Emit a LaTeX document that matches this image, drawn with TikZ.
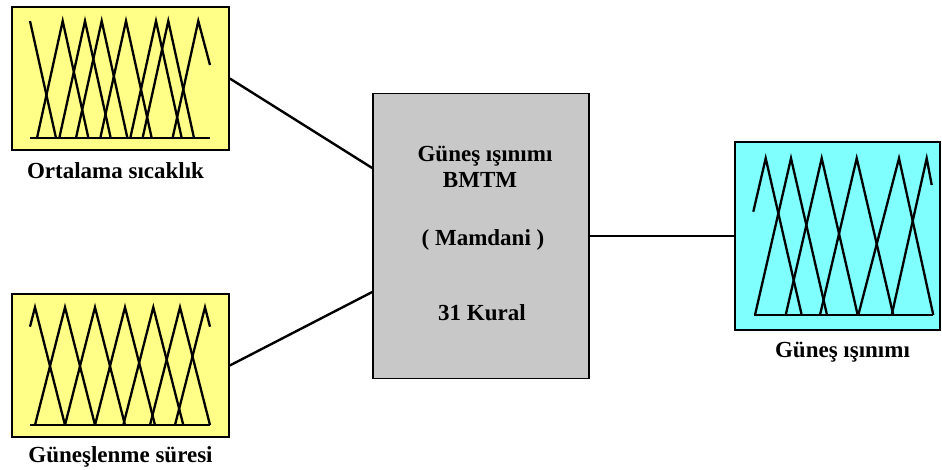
\documentclass[tikz,border=0pt]{standalone}
\usepackage{fontspec}
\setmainfont{Liberation Serif}
\usetikzlibrary{positioning}
\definecolor{inyellow}{RGB}{255,255,136}
\definecolor{outcyan}{RGB}{128,255,255}
\definecolor{fisgray}{RGB}{200,200,200}

\begin{document}
\begin{tikzpicture}[x=1pt,y=-1pt,
   font=\fontsize{23}{26}\selectfont\bfseries,
   invar/.style={draw,line width=1.6pt,inner sep=0pt,minimum width=217pt,minimum height=143pt},
   fis/.style={draw,line width=1.6pt,fill=fisgray,inner sep=0pt,minimum width=216pt,minimum height=285pt},
   mf/.style={line width=2.3pt},
   lbl/.style={inner sep=0pt}]
   \useasboundingbox (0,0) rectangle (942,469);
   \node[invar,fill=inyellow] (temp) at (120.5,78.5) {};
   \node[invar,fill=inyellow] (sun) at (120.5,365.5) {};
   \node[fis] (fis) at (481,236) {};
   \node[invar,fill=outcyan,minimum width=205pt,minimum height=188pt] (rad) at (837.5,236) {};
   \node[lbl] (templbl) [below=12pt of temp,xshift=-5pt] {Ortalama sıcaklık};
   \node[lbl] (sunlbl) [below=9pt of sun] {Güneşlenme süresi};
   \node[lbl] (radlbl) [below=11pt of rad,xshift=5pt] {Güneş ışınımı};
   \node[lbl,anchor=base] (name) at (485,161.7) {Güneş ışınımı};
   \node[lbl,anchor=base] (bmtm) at (480,187.3) {BMTM};
   \node[lbl,anchor=base] (type) at (483,245) {( Mamdani )};
   \node[lbl,anchor=base] (rules) at (482,320.7) {31 Kural};
   \path[line width=2.4pt]
   (temp.east) edge ([yshift=68pt]fis.west)
   (sun.east) edge ([yshift=-56pt]fis.west)
   (fis.east) edge (rad.west);
   \draw[mf] (30,138) -- (210,138);
   \draw[mf] (30,21) -- (56,138);
   \foreach \l/\p/\r in {37/62.7/88.4, 59.3/85/110.7, 76/101.7/127.4, 100.3/126/151.7,
      130.3/156/181.7, 142.6/168.3/194}
      \draw[mf] (\l,138) -- (\p,21) -- (\r,138);
   \draw[mf] (172.6,138) -- (198.3,21) -- (210,65);
   \draw[mf] (30,425) -- (210,425);
   \draw[mf] (30,326.7) -- (35,307.3) -- (65,425);
   \foreach \l/\p/\r in {35/65/95, 65/95/125, 95/125/155, 123.3/153.3/183.3, 150/180/210}
      \draw[mf] (\l,425) -- (\p,307.3) -- (\r,425);
   \draw[mf] (175,425) -- (205,307.3) -- (210,326.7);
   \draw[mf] (754,315) -- (933,315);
   \draw[mf] (753.3,211.7) -- (765.7,158.3) -- (801.7,315);
   \foreach \l/\p/\r in {755/791/827, 785.7/821.7/857.7, 820/856.7/893.3, 858.3/899/933.3}
      \draw[mf] (\l,315) -- (\p,158.3) -- (\r,315);
   \draw[mf] (891.7,315) -- (926.7,158.3) -- (931.7,185);
\end{tikzpicture}
\end{document}
